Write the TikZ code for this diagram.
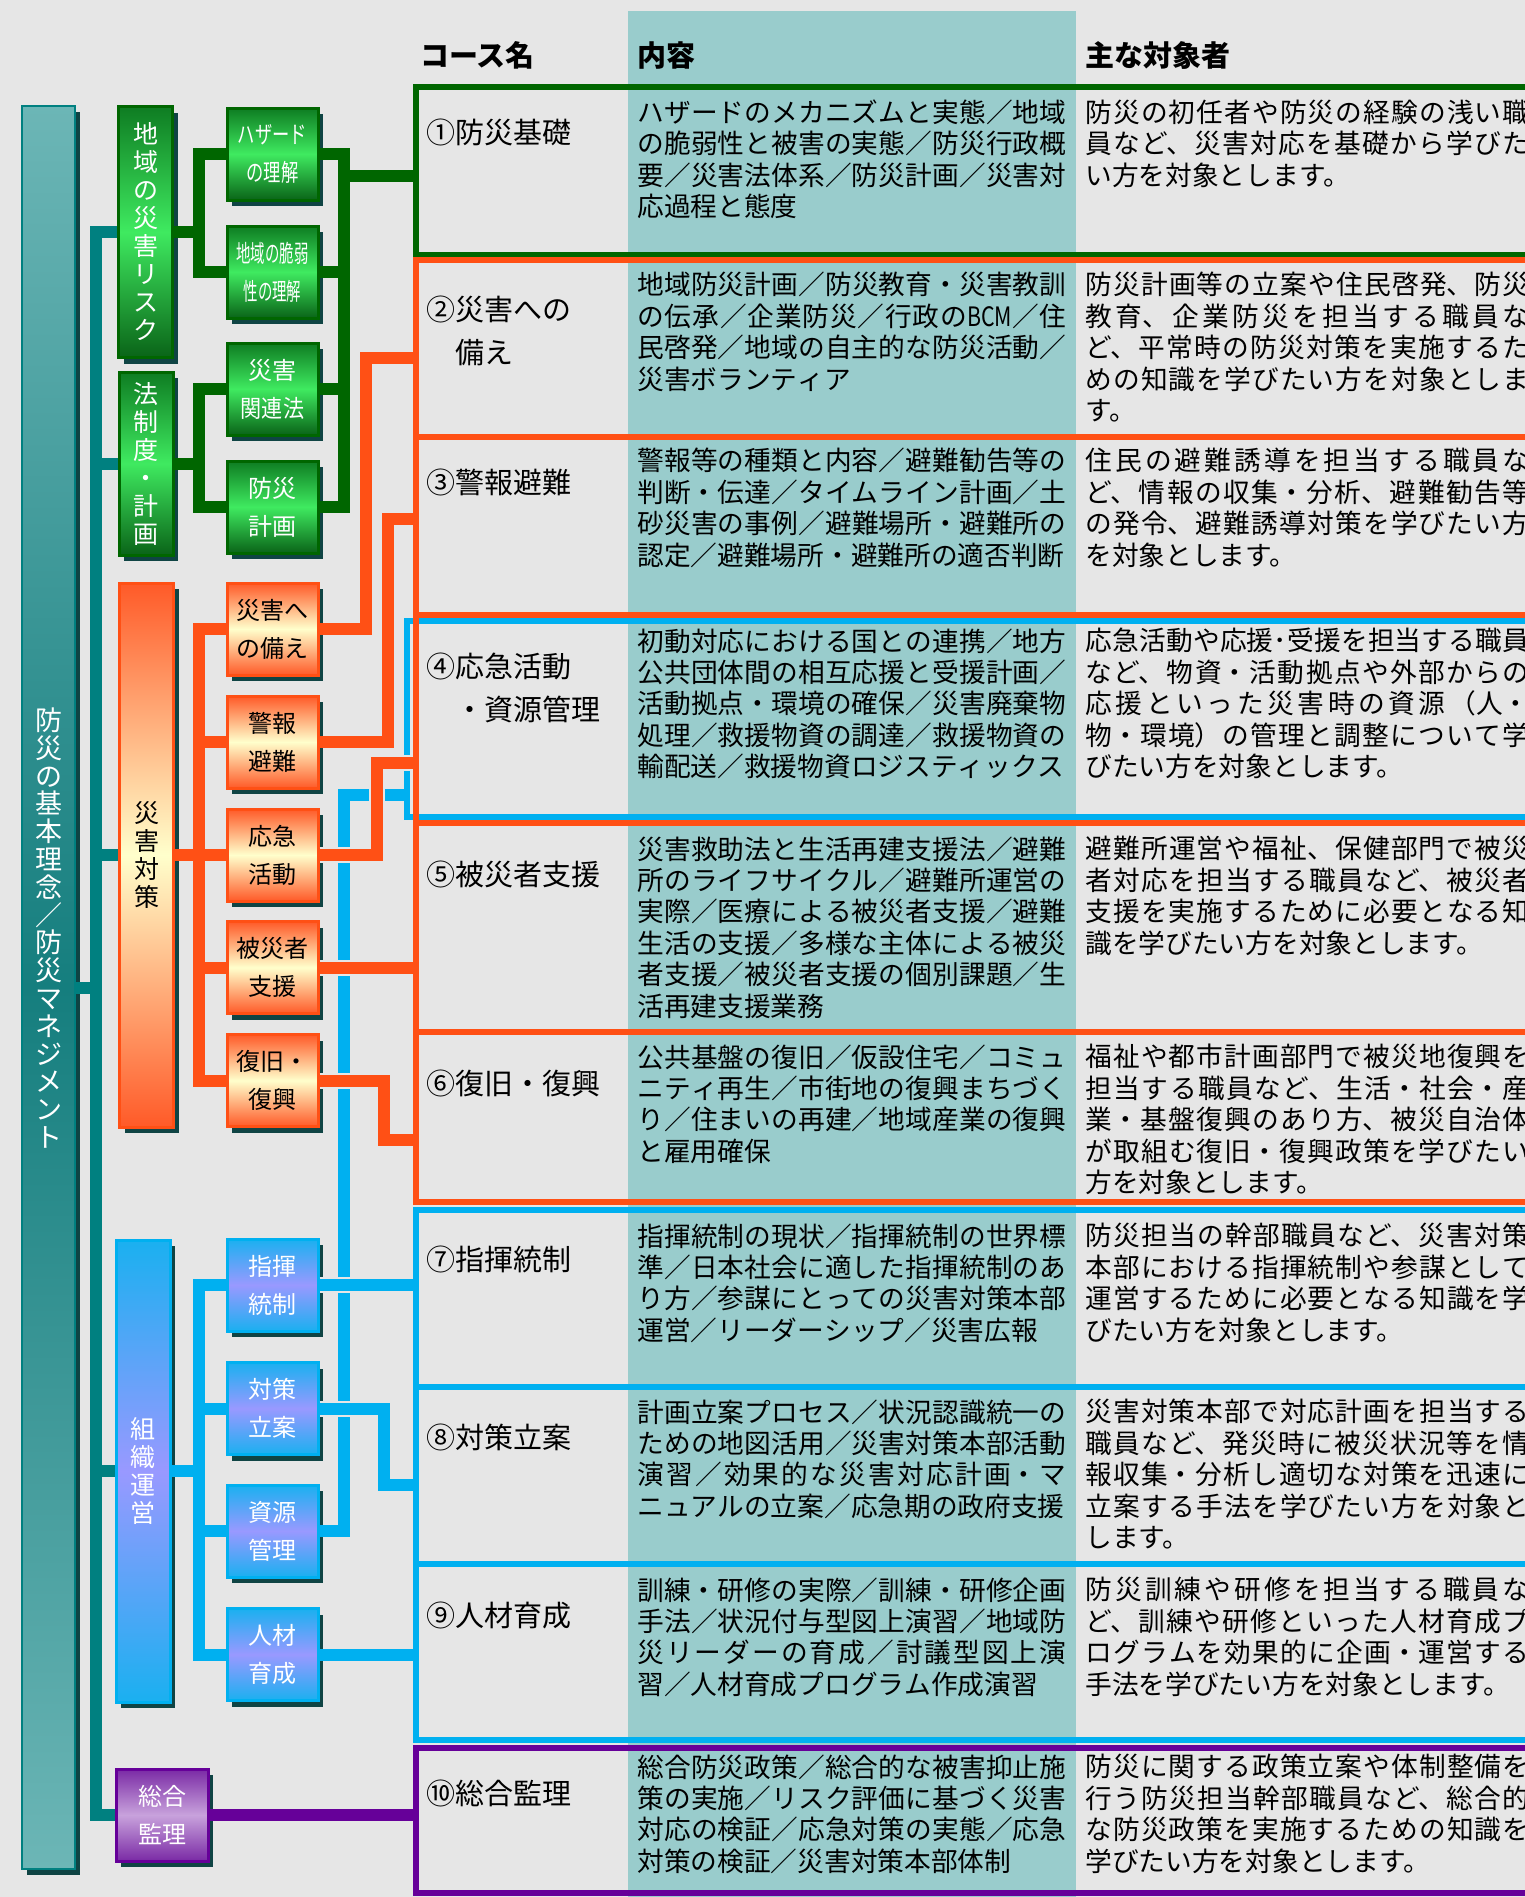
\documentclass[tikz,border=0pt]{standalone}
\usepackage{fontspec}
\setmainfont{Noto Sans CJK JP}
\usepackage{graphicx}
\usepackage{tikz}
\usetikzlibrary{shadows}

\XeTeXlinebreaklocale "ja"
\XeTeXlinebreakskip=0pt plus 4pt

\definecolor{bgc}{HTML}{E6E6E6}
\definecolor{colc}{HTML}{99CCCC}
\definecolor{tealc}{HTML}{008080}
\definecolor{greenc}{HTML}{006600}
\definecolor{orangec}{HTML}{FF5015}
\definecolor{bluec}{HTML}{00B0F0}
\definecolor{purplec}{HTML}{660099}
\definecolor{shadowc}{HTML}{0F4444}
\definecolor{gtop}{HTML}{0E7C22}
\definecolor{gmid}{HTML}{3FEA60}
\definecolor{gbot}{HTML}{0A6418}
\definecolor{otop}{HTML}{FF5A28}
\definecolor{omid}{HTML}{FFFFCC}
\definecolor{btop}{HTML}{1AB0F0}
\definecolor{bmid}{HTML}{9999FF}
\definecolor{ptop}{HTML}{7A2AA5}
\definecolor{pmid}{HTML}{C8A2DC}
\definecolor{bartop}{HTML}{6CB6B6}
\definecolor{barmid}{HTML}{157E7E}

\newcommand{\subfont}{\fontsize{12}{19}\selectfont}
\newcommand{\vertfont}{\fontsize{12.5}{14}\selectfont}
\newcommand{\barfont}{\fontsize{13.5}{13.9}\selectfont}
\newcommand{\lblfont}{\fontsize{14.5}{21.5}\selectfont}
\newcommand{\txtfont}{\fontsize{13.35}{15.7}\selectfont}
\newcommand{\headfont}{\fontsize{14.5}{17}\selectfont\bfseries}

\tikzset{
  tline/.style={draw=tealc,line width=6pt},
  gline/.style={draw=greenc,line width=6pt},
  oline/.style={draw=orangec,line width=6pt},
  bline/.style={draw=bluec,line width=6pt},
  pline/.style={draw=purplec,line width=6pt},
  bridge/.style={preaction={draw=bgc,line width=8pt}},
  rowbox/.style={draw=#1,line width=3pt,anchor=north west,minimum width=600pt,inner sep=0pt,outer sep=0pt},
  lvbox/.style={line width=1.5pt,inner sep=0pt,align=center,
    general shadow={fill=shadowc,shadow xshift=2.5pt,shadow yshift=-3pt}},
  greenbox/.style={lvbox,draw=greenc,top color=gtop,bottom color=gbot,middle color=gmid,text=white},
  orangebox/.style={lvbox,draw=orangec,top color=otop,bottom color=otop,middle color=omid,text=black},
  bluebox/.style={lvbox,draw=bluec,top color=btop,bottom color=btop,middle color=bmid,text=white},
  purplebox/.style={lvbox,draw=purplec,top color=ptop,bottom color=ptop,middle color=pmid,text=white},
  subbox/.style={minimum width=45.5pt,minimum height=46pt,font=\subfont},
  vertbox/.style={minimum width=27pt,font=\vertfont},
  lbl/.style={anchor=north west,inner sep=0pt,align=left,font=\lblfont},
  headtext/.style={anchor=west,inner sep=0pt,font=\headfont},
  contenttext/.style={anchor=north west,inner sep=0pt,text width=214.5pt,align=justify,font=\txtfont},
  targettext/.style={contenttext,text width=222pt},
}

\begin{document}
\begin{tikzpicture}[x=0.5pt,y=-0.5pt]
	\useasboundingbox (0,0) rectangle (1525,1897);
	\clip (0,0) rectangle (1525,1897);
	\fill[bgc] (0,0) rectangle (1525,1897);
	\fill[colc] (628,11) rectangle (1076,1897);
	
	\coordinate (tx) at (96,0);
	\coordinate (gx) at (199,0);
	\coordinate (gr) at (344,176);
	\coordinate (rowx) at (416,0);
	
	% course 4 frame lies under the orange lines
	\node[rowbox=bluec,minimum height=98pt] (r4) at (407,621) {};
	
	% main bar
	\node[lvbox,draw=tealc,line width=1pt,top color=bartop,bottom color=bartop,middle color=barmid,
		minimum width=26.5pt,minimum height=881.5pt] (bar) at (48.5,987.5) {};
	\node[text=white,font=\barfont,align=center,inner sep=0pt] (bartext) at (48.5,928)
		{防\\災\\の\\基\\本\\理\\念\\／\\防\\災\\マ\\ネ\\ジ\\メ\\ン\\ト};
	
	% second level
	\node[greenbox,vertbox,minimum height=125.5pt] (chiiki) at (145.5,232) {地\\域\\の\\災\\害\\リ\\ス\\ク};
	\node[greenbox,vertbox,minimum height=91.5pt] (housei) at (146,463.5) {法\\制\\度\\・\\計\\画};
	\node[orangebox,vertbox,minimum height=272pt] (taisaku) at (146.5,855) {災\\害\\対\\策};
	\node[bluebox,vertbox,minimum height=231pt] (soshiki) at (143,1471) {組\\織\\運\\営};
	\node[purplebox,subbox,minimum width=46pt] (sougou) at (162,1815) {総合\\監理};
	
	% third level
	\foreach \n/\y/\lab in {hz/154/{\scalebox{0.72}[1]{ハザード}\\\scalebox{0.72}[1]{の理解}},
			vul/272/{\scalebox{0.6}[1]{地域の脆弱}\\\scalebox{0.6}[1]{性の理解}},
			rel/389/{災害\\\scalebox{0.88}[1]{関連法}},bplan/507/{防災\\計画}}
		\node[greenbox,subbox] (\n) at (272.5,\y) {\lab};
	\foreach \n/\y/\lab in {prep/629/{災害へ\\の備え},warn/742/{警報\\避難},resp/855/{応急\\活動},
			vict/967.5/{被災者\\支援},recov/1080.5/{復旧・\\復興}}
		\node[orangebox,subbox] (\n) at (272.5,\y) {\lab};
	\foreach \n/\y/\lab in {cmd/1285/{指揮\\統制},plan/1408.5/{対策\\立案},res/1531/{資源\\管理},hr/1654.5/{人材\\育成}}
		\node[bluebox,subbox] (\n) at (272.5,\y) {\lab};
	
	% teal tree
	\draw[tline] (chiiki.west) -| (tx |- sougou.west) -- (sougou.west);
	\foreach \n in {housei,taisaku,soshiki}
		\draw[tline] (\n.west) -- (tx |- \n.west);
	\draw[tline] (bar.east) -- (tx |- bar.east);
	
	% left brackets
	\draw[gline] (hz.west) -| (gx |- vul.west) -- (vul.west);
	\draw[gline] (chiiki.east) -- (gx |- chiiki.east);
	\draw[gline] (rel.west) -| (gx |- bplan.west) -- (bplan.west);
	\draw[gline] (housei.east) -- (gx |- housei.east);
	\draw[oline] (prep.west) -| (gx |- recov.west) -- (recov.west);
	\foreach \n in {warn,resp,vict}
		\draw[oline] (\n.west) -- (gx |- \n.west);
	\draw[oline] (taisaku.east) -- (gx |- taisaku.east);
	\draw[bline] (cmd.west) -| (gx |- hr.west) -- (hr.west);
	\foreach \n in {plan,res}
		\draw[bline] (\n.west) -- (gx |- \n.west);
	\draw[bline] (soshiki.east) -- (gx |- soshiki.east);
	
	% right side to the courses
	\draw[gline] (hz.east) -| (gr |- bplan.east) -- (bplan.east);
	\draw[gline] (vul.east) -- (gr |- vul.east);
	\draw[gline] (rel.east) -- (gr |- rel.east);
	\draw[gline] (gr) -- (rowx |- gr);
	\draw[bline] (res.east) -| (344,795) -- (r4.west |- 0,795);
	\draw[oline] (prep.east) -| (366,358) -- (rowx |- 0,358);
	\draw[oline] (warn.east) -| (388,519) -- (rowx |- 0,519);
	\draw[oline,bridge] (resp.east) -| (377,763) -- (rowx |- 0,763);
	\draw[oline,bridge] (vict.east) -- (rowx |- vict.east);
	\draw[oline,bridge] (recov.east) -| (384,1140) -- (rowx |- 0,1140);
	\draw[bline,bridge] (cmd.east) -- (rowx |- cmd.east);
	\draw[bline,bridge] (plan.east) -| (384,1485) -- (rowx |- 0,1485);
	\draw[bline] (hr.east) -- (rowx |- hr.east);
	\draw[pline] (sougou.east) -- (rowx |- sougou.east);
	
	% course frames
	\node[rowbox=greenc,minimum height=84pt] (r1) at (416,87) {};
	\foreach \n/\y/\h in {r2/260/88.5,r3/437/89,r4o/615/104,r5/823/104.5,r6/1032/85}
		\node[rowbox=orangec,minimum height=\h pt] (\n) at (416,\y) {};
	\foreach \n/\y/\h in {r7/1210/88.5,r8/1387/88.5,r9/1564/88}
		\node[rowbox=bluec,minimum height=\h pt] (\n) at (416,\y) {};
	\node[rowbox=purplec,minimum height=72.5pt] (r10) at (416,1748) {};
	
	% headings
	\node[headtext] (h1) at (420,55) {コース名};
	\node[headtext] (h2) at (637,55) {内容};
	\node[headtext] (h3) at (1085,55) {主な対象者};
	
	% course names
	\node[lbl] (l1) at (426,119) {①防災基礎};
	\node[lbl] (l2) at (426,296) {②災害への\\\hspace*{1em}備え};
	\node[lbl] (l3) at (426,469) {③警報避難};
	\node[lbl] (l4) at (426,653) {④応急活動\\\hspace*{1em}・資源管理};
	\node[lbl] (l5) at (426,861) {⑤被災者支援};
	\node[lbl] (l6) at (426,1070) {⑥復旧・復興};
	\node[lbl] (l7) at (426,1246) {⑦指揮統制};
	\node[lbl] (l8) at (426,1424) {⑧対策立案};
	\node[lbl] (l9) at (426,1602) {⑨人材育成};
	\node[lbl] (l10) at (426,1780) {⑩総合監理};
	
	% contents
	\node[contenttext] (c1) at (637,99.5) {ハザードのメカニズムと実態／地域\linebreak
		の脆弱性と被害の実態／防災行政概\linebreak 要／災害法体系／防災計画／災害対\linebreak 応過程と態度};
	\node[contenttext] (c2) at (637,272) {地域防災計画／防災教育・災害教訓\linebreak
		の伝承／企業防災／行政の\scalebox{0.8}[1]{BCM}／住\linebreak 民啓発／地域の自主的な防災活動／\linebreak 災害ボランティア};
	\node[contenttext] (c3) at (637,448) {警報等の種類と内容／避難勧告等の\linebreak
		判断・伝達／タイムライン計画／土\linebreak 砂災害の事例／避難場所・避難所の\linebreak 認定／避難場所・避難所の適否判断};
	\node[contenttext] (c4) at (637,628) {初動対応における国との連携／地方\linebreak
		公共団体間の相互応援と受援計画／\linebreak 活動拠点・環境の確保／災害廃棄物\linebreak
		処理／救援物資の調達／救援物資の\linebreak 輸配送／救援物資ロジスティックス};
	\node[contenttext] (c5) at (637,836) {災害救助法と生活再建支援法／避難\linebreak
		所のライフサイクル／避難所運営の\linebreak 実際／医療による被災者支援／避難\linebreak
		生活の支援／多様な主体による被災\linebreak 者支援／被災者支援の個別課題／生\linebreak 活再建支援業務};
	\node[contenttext] (c6) at (637,1044) {公共基盤の復旧／仮設住宅／コミュ\linebreak
		ニティ再生／市街地の復興まちづく\linebreak り／住まいの再建／地域産業の復興\linebreak と雇用確保};
	\node[contenttext] (c7) at (637,1223) {指揮統制の現状／指揮統制の世界標\linebreak
		準／日本社会に適した指揮統制のあ\linebreak り方／参謀にとっての災害対策本部\linebreak 運営／リーダーシップ／災害広報};
	\node[contenttext] (c8) at (637,1399) {計画立案プロセス／状況認識統一の\linebreak
		ための地図活用／災害対策本部活動\linebreak 演習／効果的な災害対応計画・マ\linebreak ニュアルの立案／応急期の政府支援};
	\node[contenttext] (c9) at (637,1577) {訓練・研修の実際／訓練・研修企画\linebreak
		手法／状況付与型図上演習／地域防\linebreak 災リーダーの育成／討議型図上演\linebreak 習／人材育成プログラム作成演習};
	\node[contenttext] (c10) at (637,1754) {総合防災政策／総合的な被害抑止施\linebreak
		策の実施／リスク評価に基づく災害\linebreak 対応の検証／応急対策の実態／応急\linebreak 対策の検証／災害対策本部体制};
	
	% target groups
	\node[targettext] (t1) at (1085,99.5) {防災の初任者や防災の経験の浅い職\linebreak
		員など、災害対応を基礎から学びた\linebreak い方を対象とします。};
	\node[targettext] (t2) at (1085,272) {防災計画等の立案や住民啓発、防災\linebreak
		教育、企業防災を担当する職員な\linebreak ど、平常時の防災対策を実施するた\linebreak
		めの知識を学びたい方を対象としま\linebreak す。};
	\node[targettext] (t3) at (1085,448) {住民の避難誘導を担当する職員な\linebreak
		ど、情報の収集・分析、避難勧告等\linebreak の発令、避難誘導対策を学びたい方\linebreak を対象とします。};
	\node[targettext] (t4) at (1085,628) {応急活動や応援･受援を担当する職員\linebreak
		など、物資・活動拠点や外部からの\linebreak 応援といった災害時の資源（人・\linebreak
		物・環境）の管理と調整について学\linebreak びたい方を対象とします。};
	\node[targettext] (t5) at (1085,836) {避難所運営や福祉、保健部門で被災\linebreak
		者対応を担当する職員など、被災者\linebreak 支援を実施するために必要となる知\linebreak 識を学びたい方を対象とします。};
	\node[targettext] (t6) at (1085,1044) {福祉や都市計画部門で被災地復興を\linebreak
		担当する職員など、生活・社会・産\linebreak 業・基盤復興のあり方、被災自治体\linebreak
		が取組む復旧・復興政策を学びたい\linebreak 方を対象とします。};
	\node[targettext] (t7) at (1085,1223) {防災担当の幹部職員など、災害対策\linebreak
		本部における指揮統制や参謀として\linebreak 運営するために必要となる知識を学\linebreak びたい方を対象とします。};
	\node[targettext] (t8) at (1085,1399) {災害対策本部で対応計画を担当する\linebreak
		職員など、発災時に被災状況等を情\linebreak 報収集・分析し適切な対策を迅速に\linebreak
		立案する手法を学びたい方を対象と\linebreak します。};
	\node[targettext] (t9) at (1085,1577) {防災訓練や研修を担当する職員な\linebreak
		ど、訓練や研修といった人材育成プ\linebreak ログラムを効果的に企画・運営する\linebreak 手法を学びたい方を対象とします。};
	\node[targettext] (t10) at (1085,1754) {防災に関する政策立案や体制整備を\linebreak
		行う防災担当幹部職員など、総合的\linebreak な防災政策を実施するための知識を\linebreak 学びたい方を対象とします。};
\end{tikzpicture}
\end{document}
